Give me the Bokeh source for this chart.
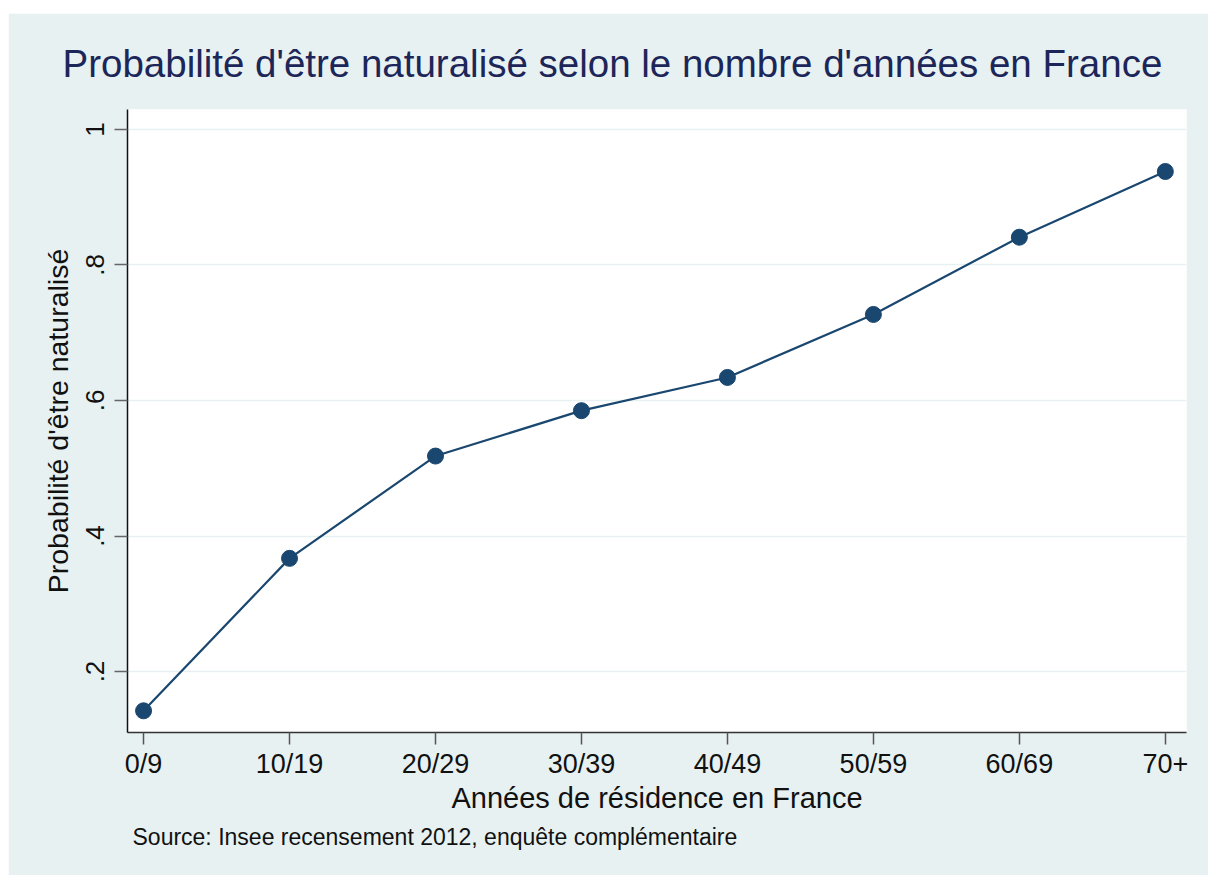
from bokeh.plotting import figure
from bokeh.layouts import column, row
from bokeh.models import Range1d, FixedTicker, Title, Spacer
from bokeh.embed import file_html
from bokeh.resources import INLINE

categories = ["0/9", "10/19", "20/29", "30/39", "40/49", "50/59", "60/69", "70+"]
probabilities = [0.142, 0.367, 0.518, 0.585, 0.634, 0.727, 0.841, 0.938]
y_ticks = [0.2, 0.4, 0.6, 0.8, 1.0]
y_tick_labels = [".2", ".4", ".6", ".8", "1"]

title_text = "Probabilité d'être naturalisé selon le nombre d'années en France"
x_label = "Années de résidence en France"
y_label = "Probabilité d'être naturalisé"
source_text = "Source: Insee recensement 2012, enquête complémentaire"

BG = "#e8f1f2"
NAVY = "#1a476f"
FONT = "Liberation Sans"

x = list(range(len(categories)))

p = figure(width=1200, height=862, output_backend="svg", toolbar_location=None,
           x_range=Range1d(-0.11, 7.145), y_range=Range1d(0.110, 1.0295),
           min_border_left=119, min_border_right=22, min_border_top=96,
           min_border_bottom=143)
p.background_fill_color = "white"
p.border_fill_color = BG
p.outline_line_color = None

p.line(x, probabilities, line_color=NAVY, line_width=2.2)
p.scatter(x, probabilities, size=16, fill_color=NAVY, line_color=NAVY)

# title
t = Title(text=title_text, align="left", offset=-65, standoff=50,
          text_font=FONT, text_font_size="38.5px", text_font_style="normal",
          text_color="#1c2659")
p.add_layout(t, "above")

# x axis
xa = p.xaxis[0]
xa.ticker = FixedTicker(ticks=x)
xa.major_label_overrides = {i: c for i, c in zip(x, categories)}
xa.axis_label = x_label
xa.axis_label_text_font = FONT
xa.axis_label_text_font_size = "29px"
xa.axis_label_text_font_style = "normal"
xa.axis_label_text_color = "#111111"
xa.axis_label_standoff = 0
xa.major_label_text_font = FONT
xa.major_label_text_font_size = "27px"
xa.major_label_text_color = "#111111"
xa.major_label_standoff = 4
xa.major_tick_out = 12
xa.major_tick_in = 0
xa.minor_tick_out = 0
xa.minor_tick_in = 0
xa.major_tick_line_color = "#555555"
xa.major_tick_line_width = 1.5
xa.axis_line_color = "#333333"
xa.axis_line_width = 1.5

# y axis
ya = p.yaxis[0]
ya.ticker = FixedTicker(ticks=y_ticks)
ya.major_label_overrides = {v: l for v, l in zip(y_ticks, y_tick_labels)}
ya.major_label_orientation = "vertical"
ya.axis_label = y_label
ya.axis_label_text_font = FONT
ya.axis_label_text_font_size = "28.5px"
ya.axis_label_text_font_style = "normal"
ya.axis_label_text_color = "#111111"
ya.axis_label_standoff = 10
ya.major_label_text_font = FONT
ya.major_label_text_font_size = "26px"
ya.major_label_text_color = "#111111"
ya.major_label_standoff = 10
ya.major_tick_out = 13
ya.major_tick_in = 0
ya.minor_tick_out = 0
ya.minor_tick_in = 0
ya.major_tick_line_color = "#666666"
ya.major_tick_line_width = 1.5
ya.axis_line_color = "#111111"
ya.axis_line_width = 1.5

p.xgrid.grid_line_color = None
p.ygrid.grid_line_color = BG
p.ygrid.grid_line_width = 1.5
p.ygrid.ticker = FixedTicker(ticks=y_ticks)

# source note
s = Title(text=source_text, align="left", offset=5, standoff=10,
          text_font=FONT, text_font_size="23px", text_font_style="normal",
          text_color="#111111")
p.add_layout(s, "below")

layout = column(Spacer(height=13), row(Spacer(width=8), p))
open("out.html", "w").write(file_html(layout, INLINE))
